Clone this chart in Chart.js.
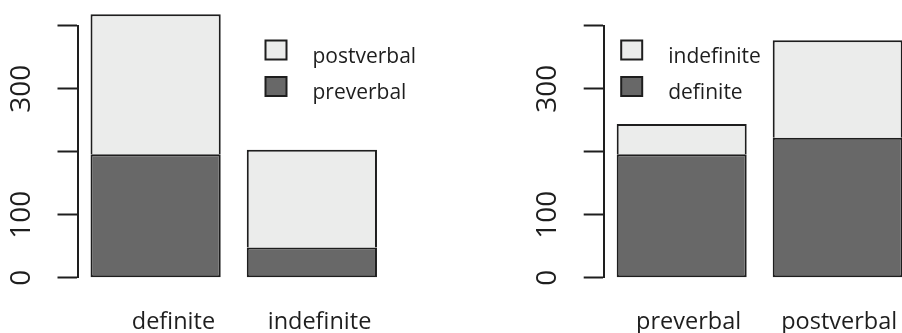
<!DOCTYPE html>
<html>
<head>
<meta charset="utf-8">
<script src="https://cdn.jsdelivr.net/npm/chart.js@4/dist/chart.umd.min.js"></script>
<style>
  html, body { margin: 0; padding: 0; background: #ffffff; overflow: hidden; }
  #wrap { position: relative; width: 902px; height: 333px; overflow: hidden; }
  canvas { position: absolute; top: 0; }
  #left { left: 0; }
  #right { left: 451px; }
</style>
</head>
<body>
<div id="wrap">
  <canvas id="left" width="451" height="333"></canvas>
  <canvas id="right" width="480" height="333"></canvas>
</div>
<script>
// Word order by definiteness: counts of preverbal / postverbal subjects
const leftCategories = ['definite', 'indefinite'];
const preverbalCounts = [196, 48];
const postverbalCounts = [222, 155];

// Same counts, grouped by position instead
const rightCategories = ['preverbal', 'postverbal'];
const definiteCounts = [196, 222];
const indefiniteCounts = [48, 155];

// Y axis ticks; R drops the 200 and 400 labels because they would overlap
const yTicks = [0, 100, 200, 300, 400];
const yTickLabels = ['0', '100', '300'];

const FONT = "'Open Sans', 'Liberation Sans', sans-serif";
const INK = '#1e1e1e';
const DARK = '#686868';
const LIGHT = '#ebeceb';

// Rotated y tick labels and a boxed legend, drawn after the chart
const rPlotExtras = {
  id: 'rPlotExtras',
  afterDraw(chart, args, opts) {
    const ctx = chart.ctx;
    const ys = chart.scales.y;
    const area = chart.chartArea;
    ctx.save();
    ctx.fillStyle = INK;
    ctx.font = opts.tickFont;
    ctx.textAlign = 'center';
    ctx.textBaseline = 'middle';
    ys.ticks.forEach(t => {
      if (!t.label) return;
      const py = ys.getPixelForValue(t.value);
      ctx.save();
      ctx.translate(area.left - opts.tickOffset, py);
      ctx.rotate(-Math.PI / 2);
      ctx.fillText(t.label, 0, 0);
      ctx.restore();
    });

    // legend: top of the stack first, as R lists it
    const items = chart.data.datasets.slice().reverse();
    ctx.font = opts.legendFont;
    ctx.textAlign = 'left';
    ctx.textBaseline = 'alphabetic';
    items.forEach((ds, i) => {
      const bx = area.left + opts.legendX;
      const by = opts.legendY + i * opts.legendRow;
      ctx.fillStyle = ds.backgroundColor;
      ctx.fillRect(bx, by, 21, 19);
      ctx.lineWidth = 2;
      ctx.strokeStyle = INK;
      ctx.strokeRect(bx, by, 21, 19);
      ctx.fillStyle = INK;
      ctx.fillText(ds.label, bx + 47, by + 22);
    });
    ctx.restore();
  }
};

function makeChart(canvasId, categories, lowLabel, lowData, highLabel, highData, geom) {
  return new Chart(document.getElementById(canvasId), {
    type: 'bar',
    data: {
      labels: categories,
      datasets: [
        { label: lowLabel, data: lowData, backgroundColor: DARK, borderColor: INK,
          borderWidth: 2, borderSkipped: false, clip: false },
        { label: highLabel, data: highData, backgroundColor: LIGHT, borderColor: INK,
          borderWidth: 2, borderSkipped: 'bottom', clip: false }
      ]
    },
    options: {
      responsive: false,
      animation: false,
      devicePixelRatio: 1,
      layout: { padding: { left: 0, right: geom.padRight, top: 25.7, bottom: 0 } },
      datasets: { bar: { categoryPercentage: 1, barPercentage: 0.8333 } },
      scales: {
        x: {
          stacked: true,
          grid: { display: false },
          border: { display: false },
          ticks: { color: INK, font: { family: FONT, size: 23.5 }, padding: 23, maxRotation: 0,
                   align: 'end', labelOffset: 59.5 },
          afterFit(s) { s.height = 333 - 277.7; }
        },
        y: {
          stacked: true,
          min: 0,
          max: 400,
          afterBuildTicks(s) { s.ticks = yTicks.map(v => ({ value: v })); },
          ticks: {
            display: false,
            callback: v => (yTickLabels.includes(String(v)) ? String(v) : '')
          },
          grid: { drawOnChartArea: false, drawTicks: true, tickLength: 20,
                  tickColor: INK, tickWidth: 2 },
          border: { display: true, color: INK, width: 2 },
          afterFit(s) { s.width = geom.axisLeft; }
        }
      },
      plugins: {
        legend: { display: false },
        tooltip: { enabled: false },
        rPlotExtras: {
          tickFont: '28px ' + FONT,
          tickOffset: 55.5,
          legendFont: '21px ' + FONT,
          legendX: geom.legendX,
          legendY: 40.5,
          legendRow: 36.5
        }
      }
    },
    plugins: [rPlotExtras]
  });
}

makeChart('left', leftCategories, 'preverbal', preverbalCounts, 'postverbal', postverbalCounts,
  { axisLeft: 77.5, padRight: 61, legendX: 188 });
makeChart('right', rightCategories, 'definite', definiteCounts, 'indefinite', indefiniteCounts,
  { axisLeft: 152.7, padRight: 15.3, legendX: 17.5 });
</script>
</body>
</html>
